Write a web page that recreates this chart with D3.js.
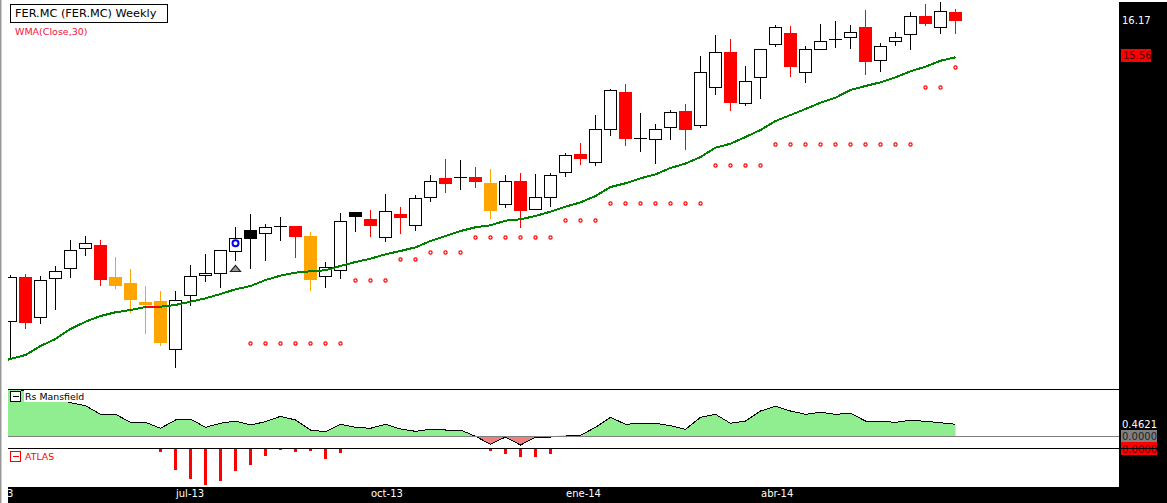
<!DOCTYPE html>
<html>

<head>
  <script src='https://cdn.jsdelivr.net/npm/d3@7'></script>
  <meta charset='utf-8'>
  <title>FER.MC Weekly</title>
  <style>
    html, body { margin: 0; padding: 0; background: #fff; overflow: hidden; }
    svg { display: block; }
    text { font-family: 'DejaVu Sans', sans-serif; font-size: 10px; }
  </style>
</head>

<body>
  <div id='chart'></div>
  <script>
    // week kind: u = hollow, r = red, o = orange, k = black
    var kinds = ['u','r','u','u','u','u','r','o','o','o','o','u','u','u','u','u','k','u','k','r','o','u','u','k','r','u','r','u','u','r','k','r','o','u','r','u','u','u','r','u','u','r','k','u','u','r','u','u','r','u','u','u','r','u','u','k','u','r','u','u','u','r','u','r'];

    var bodyTop = [11.893,11.898,11.843,11.993,12.343,12.460,12.432,11.898,11.798,11.482,11.498,11.510,11.910,11.960,12.343,12.543,12.682,12.727,12.743,12.748,12.582,12.060,12.827,12.982,12.865,12.993,12.948,13.210,13.493,13.548,13.570,13.565,13.465,13.493,13.498,13.227,13.593,13.927,13.948,14.360,15.010,14.982,14.210,14.360,14.643,14.665,15.310,15.643,15.648,15.160,15.693,16.060,15.965,15.693,15.827,15.860,15.977,16.065,15.743,15.893,16.243,16.248,16.327,16.315];
    var bodyBottom = [11.160,11.137,11.227,11.877,12.043,12.377,11.853,11.753,11.520,11.432,10.803,10.693,11.593,11.927,11.960,12.327,12.537,12.627,12.743,12.570,11.853,11.910,12.010,12.903,12.753,12.560,12.887,12.760,13.227,13.453,13.553,13.487,13.003,13.110,13.003,13.027,13.227,13.643,13.865,13.810,14.360,14.203,14.210,14.193,14.393,14.353,14.427,15.060,14.803,14.793,15.227,15.777,15.403,15.310,15.693,15.860,15.893,15.487,15.510,15.827,15.943,16.120,16.060,16.170];
    var highs = [11.932,11.948,11.910,12.082,12.515,12.582,12.515,12.232,12.032,11.748,11.665,11.665,12.098,12.282,12.343,12.732,12.948,12.782,12.898,12.748,12.648,12.148,12.960,12.982,13.015,13.282,13.065,13.265,13.598,13.865,13.848,13.732,13.698,13.598,13.632,13.615,13.632,13.965,14.132,14.598,15.032,15.115,14.632,14.448,14.682,14.782,15.582,15.932,15.865,15.415,15.693,16.098,16.082,15.748,16.115,16.165,16.098,16.348,15.798,15.982,16.315,16.448,16.482,16.365];
    var lows = [10.532,11.037,11.120,11.353,11.887,12.253,11.753,11.703,11.303,10.953,10.753,10.387,11.420,11.820,11.720,12.160,12.037,12.170,12.503,12.220,11.670,11.720,11.870,12.653,12.570,12.487,12.620,12.670,13.153,13.303,13.353,13.387,12.870,13.053,12.720,13.027,13.070,13.570,13.770,13.753,14.253,14.087,13.987,13.782,14.187,14.020,14.387,14.937,14.670,14.753,14.870,15.737,15.237,15.137,15.693,15.720,15.703,15.270,15.320,15.753,15.687,16.082,15.953,15.953];

    // first entry of these two is the week just off the left edge
    var wma = [10.465,10.532,10.598,10.748,10.865,11.032,11.153,11.248,11.310,11.348,11.398,11.403,11.432,11.487,11.543,11.615,11.693,11.748,11.848,11.920,11.970,11.993,12.010,12.082,12.148,12.203,12.277,12.332,12.393,12.498,12.582,12.665,12.727,12.760,12.837,12.860,12.915,12.987,13.070,13.143,13.248,13.398,13.460,13.543,13.610,13.715,13.790,13.898,14.053,14.120,14.232,14.348,14.498,14.598,14.698,14.803,14.887,15.015,15.082,15.143,15.227,15.327,15.403,15.503,15.560];
    var mansfield = [1.9,1.85,1.75,1.6,1.45,1.292,1.177,0.846,0.846,0.538,0.538,0.308,0.627,0.665,0.346,0.5,0.588,0.435,0.562,0.769,0.627,0.242,0.177,0.462,0.346,0.308,0.462,0.281,0.192,0.269,0.242,0.242,0,-0.308,-0.027,-0.335,-0.038,-0.038,0.038,0.038,0.346,0.731,0.462,0.5,0.5,0.408,0.269,0.731,0.846,0.5,0.588,0.973,1.154,0.973,0.846,0.923,0.846,0.885,0.588,0.577,0.538,0.615,0.577,0.523,0.4621];

    var stops = [null,null,null,null,null,null,null,null,null,null,null,null,null,null,null,null,10.803,10.803,10.803,10.803,10.803,10.803,10.803,11.848,11.848,11.848,12.198,12.198,12.315,12.315,12.315,12.565,12.565,12.565,12.565,12.565,12.565,12.848,12.848,12.848,13.132,13.132,13.132,13.132,13.132,13.132,13.132,13.765,13.765,13.765,13.765,14.115,14.115,14.115,14.115,14.115,14.115,14.115,14.115,14.115,14.115,15.065,15.065,15.398];

    var atlas = [0,0,0,0,0,0,0,0,0,0,-0.032,-0.215,-0.305,-0.365,-0.325,-0.225,-0.165,-0.075,-0.015,-0.035,-0.025,-0.105,-0.045,0,0,0,0,0,0,0,0,0,-0.025,-0.055,-0.085,-0.085,-0.055,0,0,0,0,0,0,0,0,0,0,0,0,0,0,0,0,0,0,0,0,0,0,0,0,0,0,0];

    var tickWeeks = [-2, 11, 24, 37, 50];
    var tickLabels = ['abr-13', 'jul-13', 'oct-13', 'ene-14', 'abr-14'];

    var signalWeek = 15, signalPrice = 12.46, arrowPrice = 12.04;
    var lastClose = 16.17, lastWma = 15.56, lastRs = 0.4621;

    var width = 1167, height = 503;
    var colors = { u: '#000', r: '#f00', o: '#ffa500', k: '#000' };

    var x = d3.scaleLinear().domain([0, 63]).range([10.5, 955.5]);
    var y = d3.scaleLinear().domain([16.515, 10.098]).range([0, 385]);
    var yRs = d3.scaleLinear().domain([1.8, -0.5]).range([389.5, 449.3]);
    var yAtlas = d3.scaleLinear().domain([0, -0.37]).range([448.5, 485.5]);

    var svg = d3.select('#chart').append('svg')
      .attr('width', width)
      .attr('height', height);

    var defs = svg.append('defs');
    defs.append('clipPath').attr('id', 'main').append('rect')
      .attr('x', 8).attr('y', 0).attr('width', 1111).attr('height', 389);
    defs.append('clipPath').attr('id', 'rs').append('rect')
      .attr('x', 8).attr('y', 390).attr('width', 1111).attr('height', 58);
    defs.append('clipPath').attr('id', 'timeShift').append('rect')
      .attr('x', 8).attr('y', -2).attr('width', 1111).attr('height', 16);

    // window edge
    svg.append('rect').attr('x', 0).attr('y', 0).attr('width', 1.5).attr('height', height).attr('fill', '#999');

    // candles
    var main = svg.append('g').attr('clip-path', 'url(#main)');
    var weeks = d3.range(kinds.length);

    main.selectAll('.wick')
      .data(weeks)
      .enter()
      .append('line')
      .attr('class', 'wick')
      .attr('x1', function(d) { return x(d); })
      .attr('x2', function(d) { return x(d); })
      .attr('y1', function(d) { return Math.round(y(highs[d])); })
      .attr('y2', function(d) { return Math.round(y(lows[d])); })
      .attr('stroke', function(d) { return colors[kinds[d]]; })
      .attr('shape-rendering', 'crispEdges');

    main.selectAll('.body')
      .data(weeks)
      .enter()
      .append('rect')
      .attr('class', 'body')
      .attr('x', function(d) { return kinds[d] == 'u' ? x(d) - 6 : x(d) - 6.5; })
      .attr('width', function(d) { return kinds[d] == 'u' ? 12 : 13; })
      .attr('y', function(d) {
        var t = Math.round(y(bodyTop[d]));
        return kinds[d] == 'u' ? t + 0.5 : t;
      })
      .attr('height', function(d) {
        return Math.max(1, Math.round(y(bodyBottom[d])) - Math.round(y(bodyTop[d])));
      })
      .attr('fill', function(d) { return kinds[d] == 'u' ? '#fff' : colors[kinds[d]]; })
      .attr('stroke', function(d) { return kinds[d] == 'u' ? '#000' : 'none'; })
      .attr('shape-rendering', 'crispEdges');

    // WMA line, red on the week it flips
    var wmaPoints = wma.map(function(v, i) { return { week: i - 1, value: v }; });
    var wmaLine = d3.line()
      .x(function(d) { return x(d.week); })
      .y(function(d) { return y(d.value); });

    main.append('path')
      .attr('d', wmaLine(wmaPoints))
      .attr('fill', 'none')
      .attr('stroke', '#008000')
      .attr('stroke-width', 2)
      .attr('shape-rendering', 'crispEdges');
    main.append('path')
      .attr('d', wmaLine(wmaPoints.filter(function(d) { return d.week == 9 || d.week == 10; })))
      .attr('fill', 'none')
      .attr('stroke', '#f00')
      .attr('stroke-width', 2)
      .attr('shape-rendering', 'crispEdges');

    // stop dots
    main.selectAll('.stop')
      .data(weeks.filter(function(d) { return stops[d] !== null; }))
      .enter()
      .append('circle')
      .attr('class', 'stop')
      .attr('cx', function(d) { return x(d); })
      .attr('cy', function(d) { return Math.round(y(stops[d])) + 0.5; })
      .attr('r', 1.6)
      .attr('fill', '#fff')
      .attr('stroke', '#f00')
      .attr('stroke-width', 1.2);

    // signal markers
    main.append('circle')
      .attr('cx', x(signalWeek))
      .attr('cy', y(signalPrice))
      .attr('r', 3)
      .attr('fill', '#fff')
      .attr('stroke', '#00f')
      .attr('stroke-width', 2);
    main.append('path')
      .attr('d', 'M-5,3L0,-3L5,3Z')
      .attr('transform', 'translate(' + x(signalWeek) + ',' + y(arrowPrice) + ')')
      .attr('fill', '#999')
      .attr('stroke', '#222')
      .attr('stroke-width', 1.2);

    // Rs Mansfield pane
    var rsPoints = mansfield.map(function(v, i) { return { week: i - 1, value: v }; });
    var rsPane = svg.append('g').attr('clip-path', 'url(#rs)');

    rsPane.append('path')
      .attr('d', d3.area()
        .x(function(d) { return x(d.week); })
        .y0(yRs(0))
        .y1(function(d) { return yRs(Math.max(d.value, 0)); })(rsPoints))
      .attr('fill', '#90ee90');
    rsPane.append('path')
      .attr('d', d3.area()
        .x(function(d) { return x(d.week); })
        .y0(yRs(0))
        .y1(function(d) { return yRs(Math.min(d.value, 0)); })(rsPoints))
      .attr('fill', '#f08080');

    var rsLine = d3.line()
      .x(function(d) { return x(d.week); })
      .y(function(d) { return yRs(d.value); });
    [rsPoints.filter(function(d) { return d.week <= 36; }),
      rsPoints.filter(function(d) { return d.week >= 37; })
    ].forEach(function(part) {
      rsPane.append('path')
        .attr('d', rsLine(part))
        .attr('fill', 'none')
        .attr('stroke', '#000')
        .attr('shape-rendering', 'crispEdges');
    });

    svg.append('line').attr('x1', 8).attr('x2', 1119).attr('y1', 436.5).attr('y2', 436.5).attr('stroke', '#808080');

    // ATLAS pane
    svg.selectAll('.atlas')
      .data(weeks.filter(function(d) { return atlas[d] != 0; }))
      .enter()
      .append('rect')
      .attr('class', 'atlas')
      .attr('x', function(d) { return x(d) - 1.5; })
      .attr('width', 3)
      .attr('y', yAtlas(0))
      .attr('height', function(d) { return yAtlas(atlas[d]) - yAtlas(0); })
      .attr('fill', '#f00')
      .attr('shape-rendering', 'crispEdges');

    // black margins
    svg.append('rect').attr('x', 1119).attr('y', 2).attr('width', 48).attr('height', height - 2).attr('fill', '#000');
    svg.append('rect').attr('x', 8).attr('y', 487).attr('width', 1159).attr('height', 16).attr('fill', '#000');

    // time axis, the first label runs off the left edge as in the screen grab
    var axis = svg.append('g')
      .attr('transform', 'translate(0,489)')
      .attr('clip-path', 'url(#timeShift)')
      .call(d3.axisBottom(x)
        .tickValues(tickWeeks)
        .tickFormat(function(d, i) { return tickLabels[i]; })
        .tickSize(0));
    axis.select('.domain').remove();
    axis.selectAll('text')
      .attr('fill', '#fff')
      .attr('text-anchor', 'start')
      .attr('y', 1)
      .attr('dy', '0.71em')
      .style('font-size', '10px');

    // price labels
    svg.append('text').attr('x', 1122).attr('y', y(lastClose)).attr('dy', '0.35em').attr('fill', '#fff').text(lastClose.toFixed(2));
    svg.append('rect').attr('x', 1121).attr('y', y(lastWma) - 8.3).attr('width', 30).attr('height', 13).attr('fill', '#f00');
    svg.append('text').attr('x', 1123).attr('y', y(lastWma) - 1.8).attr('dy', '0.35em').attr('fill', '#500').text(lastWma.toFixed(2));

    svg.append('text').attr('x', 1122).attr('y', yRs(lastRs)).attr('dy', '0.35em').attr('fill', '#fff').text(lastRs.toFixed(4));
    svg.append('rect').attr('x', 1121).attr('y', 430).attr('width', 36).attr('height', 12).attr('fill', '#808080');
    svg.append('text').attr('x', 1122).attr('y', 436).attr('dy', '0.35em').attr('fill', '#222').text('0.0000');
    svg.append('rect').attr('x', 1121).attr('y', 442).attr('width', 36).attr('height', 13).attr('fill', '#f00');
    svg.append('text').attr('x', 1122).attr('y', 449).attr('dy', '0.35em').attr('fill', '#600').text('0.0000');

    // pane separators
    svg.append('line').attr('x1', 8).attr('x2', 1119).attr('y1', 389.5).attr('y2', 389.5).attr('stroke', '#000');
    svg.append('line').attr('x1', 8).attr('x2', 1157).attr('y1', 448.5).attr('y2', 448.5).attr('stroke', '#000');

    // title box and legends
    svg.append('rect').attr('x', 10.5).attr('y', 4.5).attr('width', 157).attr('height', 18).attr('fill', '#fff').attr('stroke', '#000');
    svg.append('text').attr('x', 15).attr('y', 13.5).attr('dy', '0.35em').attr('fill', '#000').style('font-size', '11.3px').text('FER.MC (FER.MC) Weekly');
    svg.append('text').attr('x', 15).attr('y', 32).attr('dy', '0.35em').attr('fill', '#f0103c').style('font-size', '9.5px').text('WMA(Close,30)');

    function legend(top, color, label, textWidth) {
      if (textWidth) {
        svg.append('rect').attr('x', 24).attr('y', top - 1).attr('width', textWidth).attr('height', 12).attr('fill', '#fff');
      }
      svg.append('rect').attr('x', 10.5).attr('y', top + 0.5).attr('width', 10).attr('height', 10).attr('fill', '#fff').attr('stroke', color);
      svg.append('line').attr('x1', 13).attr('x2', 19).attr('y1', top + 5.5).attr('y2', top + 5.5).attr('stroke', color);
      svg.append('text').attr('x', 25).attr('y', top + 5.5).attr('dy', '0.35em').attr('fill', color).style('font-size', '9.4px').text(label);
    }
    legend(391, '#000', 'Rs Mansfield', 60);
    legend(451, '#f00', 'ATLAS');
  </script>
</body>

</html>
